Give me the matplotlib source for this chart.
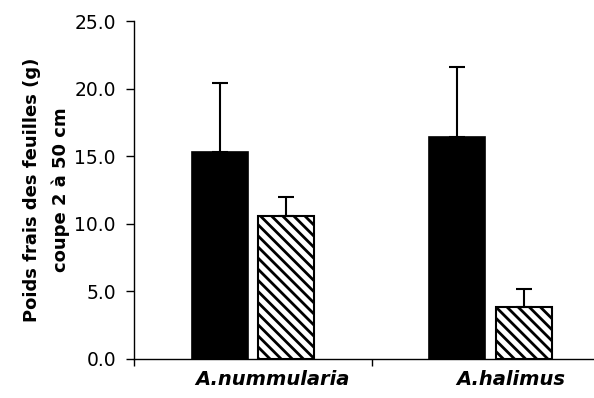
import numpy as np
import matplotlib
matplotlib.use('Agg')
import matplotlib.pyplot as plt
from matplotlib.ticker import FormatStrFormatter

species=['A.nummularia','A.halimus']
black_vals=[15.3,16.4]
black_err=[5.1,5.2]
hatch_vals=[10.6,3.85]
hatch_err=[1.4,1.3]

plt.rcParams['font.family']=['DejaVu Sans']
plt.rcParams['hatch.linewidth']=2.0

fig=plt.figure(figsize=(5.94,3.98),dpi=100)
ax=fig.add_axes([0.2256,0.098,1.026-0.2256,0.947-0.098])

x=np.arange(len(species))
w=0.235
ax.bar(x+0.36,black_vals,w,color='black',edgecolor='black',linewidth=1.2,
       yerr=[np.zeros(2),black_err],error_kw=dict(ecolor='black',elinewidth=1.5,capsize=5.5,capthick=1.5))
ax.bar(x+0.64,hatch_vals,w,color='white',edgecolor='black',linewidth=1.5,hatch='\\\\\\',
       yerr=[np.zeros(2),hatch_err],error_kw=dict(ecolor='black',elinewidth=1.5,capsize=5.5,capthick=1.5))

ax.set_xlim(0,2)
ax.set_ylim(0,25)
ax.set_yticks(np.arange(0,25.1,5))
ax.yaxis.set_major_formatter(FormatStrFormatter('%.1f'))
ax.tick_params(axis='y',direction='out',length=6,width=1,pad=7,labelsize=13.5)

ax.set_xticks([0,1,2])
ax.set_xticklabels([])
ax.tick_params(axis='x',which='major',direction='out',length=5,width=1)
ax.set_xticks(x+0.583,minor=True)
ax.set_xticklabels(species,minor=True,fontsize=14,fontweight='bold',fontstyle='italic')
ax.tick_params(axis='x',which='minor',length=0,pad=8)

for s in ['top','right']:
    ax.spines[s].set_visible(False)
ax.spines['left'].set_linewidth(1)
ax.spines['bottom'].set_linewidth(1)

ax.set_ylabel('Poids frais des feuilles (g)\ncoupe 2 à 50 cm',fontsize=13,fontweight='bold',linespacing=1.75,labelpad=3)

fig.savefig('out.png',dpi=100)
